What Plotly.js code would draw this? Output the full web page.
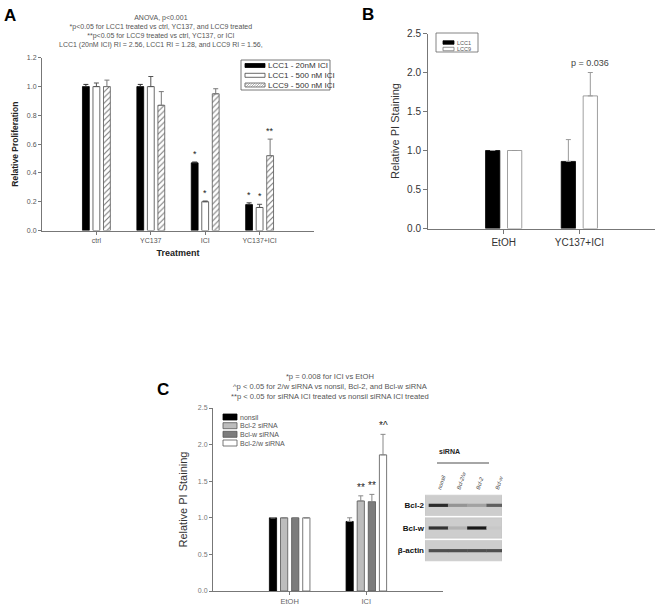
<!DOCTYPE html>
<html>
<head>
<meta charset="utf-8">
<script src="https://cdn.plot.ly/plotly-3.0.1.min.js"></script>
<style>html,body{margin:0;padding:0;background:#fff;}#chart{width:661px;height:607px;}</style>
</head>
<body>
<div id="chart"></div>
<script>
// ---------- DATA ----------
// Panel A
const catsA = ['ctrl', 'YC137', 'ICI', 'YC137+ICI'];
const namesA = ['LCC1 - 20nM ICI', 'LCC1 - 500 nM ICI', 'LCC9 - 500 nM ICI'];
const lcc1_20 = [1.00, 1.00, 0.47, 0.18];
const lcc1_20Err = [0.015, 0.015, 0.006, 0.012];
const lcc1_500 = [1.00, 1.00, 0.20, 0.16];
const lcc1_500Err = [0.025, 0.07, 0.005, 0.022];
const lcc9_500 = [1.00, 0.87, 0.95, 0.52];
const lcc9_500Err = [0.045, 0.095, 0.035, 0.115];
const starsA = [['', '', '*', '*'], ['', '', '*', '*'], ['', '', '', '**']];
const headerA = ['ANOVA, p<0.001',
  '*p<0.05 for LCC1 treated vs ctrl, YC137, and LCC9 treated',
  '**p<0.05 for LCC9 treated vs ctrl, YC137, or ICI',
  'LCC1 (20nM ICI) RI = 2.56, LCC1 RI = 1.28, and LCC9 RI = 1.56,'];

// Panel B
const catsB = ['EtOH', 'YC137+ICI'];
const namesB = ['LCC1', 'LCC9'];
const lcc1B = [1.00, 0.86];
const lcc1BErr = [0, 0.28];
const lcc9B = [1.00, 1.70];
const lcc9BErr = [0, 0.30];
const pLabelB = 'p = 0.036';

// Panel C
const catsC = ['EtOH', 'ICI'];
const namesC = ['nonsil', 'Bcl-2 siRNA', 'Bcl-w siRNA', 'Bcl-2/w siRNA'];
const nonsilC = [1.00, 0.95];
const nonsilCErr = [0, 0.05];
const bcl2C = [1.00, 1.23];
const bcl2CErr = [0, 0.07];
const bclwC = [1.00, 1.22];
const bclwCErr = [0, 0.10];
const bcl2wC = [1.00, 1.86];
const bcl2wCErr = [0, 0.28];
const starsC = [['', ''], ['', '**'], ['', '**'], ['', '*^']];
const headerC = ['*p = 0.008 for ICI vs EtOH',
  '^p < 0.05 for 2/w siRNA vs nonsil, Bcl-2, and Bcl-w siRNA',
  '**p < 0.05 for siRNA ICI treated vs nonsil siRNA ICI treated'];

// Western blot (band intensity 0..1)
const blotLanes = ['nonsil', 'Bcl-2/w', 'Bcl-2', 'Bcl-w'];
const blotRows = ['Bcl-2', 'Bcl-w', 'β-actin'];
const bandBcl2 = [0.90, 0.30, 0.22, 0.60];
const bandBclw = [0.85, 0.12, 1.00, 0.00];
const bandActin = [0.70, 0.70, 0.70, 0.70];

// ---------- HELPERS ----------
const W = 661, H = 607;
const px = x => x / W;
const py = y => 1 - y / H;
const FONT = 'Liberation Sans, Arial, sans-serif';
const BARGAP = 0.42, BARGROUPGAP = 0.35;

function errUp(arr) {
  const up = arr.map(v => v > 0 ? v : NaN);
  return {type: 'data', symmetric: false, array: up, arrayminus: arr.map(() => 0), thickness: 1, width: 2.5};
}

function starAnns(xa, ya, vals, errs, stars, n, size) {
  const out = [];
  const slot = (1 - BARGAP) / n;
  stars.forEach((row, i) => {
    row.forEach((s, j) => {
      if (!s) return;
      out.push({xref: xa, yref: ya, x: j + (i - (n - 1) / 2) * slot, y: vals[i][j] + errs[i][j],
        text: s, showarrow: false, yanchor: 'bottom', yshift: 1,
        font: {family: FONT, size: size, color: '#222'}});
    });
  });
  return out;
}

const traces = [];
// Panel A
traces.push({type: 'bar', x: catsA, y: lcc1_20, name: namesA[0], xaxis: 'x', yaxis: 'y',
  marker: {color: '#000', line: {color: '#000', width: 0.8}}, error_y: Object.assign(errUp(lcc1_20Err), {color: '#333'})});
traces.push({type: 'bar', x: catsA, y: lcc1_500, name: namesA[1], xaxis: 'x', yaxis: 'y',
  marker: {color: '#fff', line: {color: '#444', width: 0.8}}, error_y: Object.assign(errUp(lcc1_500Err), {color: '#555'})});
traces.push({type: 'bar', x: catsA, y: lcc9_500, name: namesA[2], xaxis: 'x', yaxis: 'y',
  marker: {color: '#fff', line: {color: '#555', width: 0.8},
    pattern: {shape: '/', fgcolor: '#777', bgcolor: '#fff', size: 4, solidity: 0.25}},
  error_y: Object.assign(errUp(lcc9_500Err), {color: '#777'})});
// Panel B
traces.push({type: 'bar', x: catsB, y: lcc1B, name: namesB[0], xaxis: 'x2', yaxis: 'y2',
  marker: {color: '#000', line: {color: '#000', width: 0.8}}, error_y: Object.assign(errUp(lcc1BErr), {color: '#999'})});
traces.push({type: 'bar', x: catsB, y: lcc9B, name: namesB[1], xaxis: 'x2', yaxis: 'y2',
  marker: {color: '#fff', line: {color: '#888', width: 0.8}}, error_y: Object.assign(errUp(lcc9BErr), {color: '#999'})});
// Panel C
const colorsC = ['#000000', '#bdbdbd', '#7c7c7c', '#ffffff'];
const valsC = [nonsilC, bcl2C, bclwC, bcl2wC];
const errsC = [nonsilCErr, bcl2CErr, bclwCErr, bcl2wCErr];
valsC.forEach((v, i) => {
  traces.push({type: 'bar', x: catsC, y: v, name: namesC[i], xaxis: 'x3', yaxis: 'y3',
    marker: {color: colorsC[i], line: {color: i === 0 ? '#000' : '#555', width: 0.8}},
    error_y: Object.assign(errUp(errsC[i]), {color: '#888'})});
});
// Blot bands
function bandColor(v) {
  const bg = 200, dark = 25;
  const c = Math.round(bg - (bg - dark) * v);
  return 'rgb(' + c + ',' + c + ',' + c + ')';
}
const bands = [bandBcl2, bandBclw, bandActin];
const bx = [], by = [], bc = [];
bands.forEach((row, r) => row.forEach((v, l) => {
  bx.push(l); by.push(blotRows.length - 1 - r + 0.5); bc.push(bandColor(v));
}));
traces.push({type: 'scatter', mode: 'markers', x: bx, y: by, xaxis: 'x4', yaxis: 'y4', hoverinfo: 'skip',
  marker: {symbol: 'line-ew', size: 14, color: bc, line: {color: bc, width: 3.2}}});

traces.forEach(t => t.showlegend = false);

// ---------- LAYOUT ----------
const axBase = {showline: true, linecolor: '#777', linewidth: 1, ticks: 'outside', tickcolor: '#777',
  showgrid: false, zeroline: false, fixedrange: true};

const shapes = [], annotations = [];

// Panel labels
[['A', 10, 15], ['B', 368, 14], ['C', 163, 389]].forEach(([t, x, y]) => {
  annotations.push({xref: 'paper', yref: 'paper', x: px(x), y: py(y), text: '<b>' + t + '</b>', showarrow: false,
    xanchor: 'center', yanchor: 'middle', font: {family: FONT, size: 17, color: '#000'}});
});
// Header text (single multi-line blocks)
annotations.push({xref: 'paper', yref: 'paper', x: px(161), y: py(32), text: headerA.join('<br>'),
  showarrow: false, xanchor: 'center', yanchor: 'middle', align: 'center', borderpad: 0,
  font: {family: FONT, size: 7, color: '#555'}});
annotations.push({xref: 'paper', yref: 'paper', x: px(330), y: py(386), text: headerC.join('<br>'),
  showarrow: false, xanchor: 'center', yanchor: 'middle', align: 'center', borderpad: 0,
  font: {family: FONT, size: 7.6, color: '#555'}});

// Stars
annotations.push(...starAnns('x', 'y', [lcc1_20, lcc1_500, lcc9_500], [lcc1_20Err, lcc1_500Err, lcc9_500Err], starsA, 3, 9));
annotations.push(...starAnns('x3', 'y3', valsC, errsC, starsC, 4, 10));
// p label B
annotations.push({xref: 'x2', yref: 'y2', x: 1 + 0.5 * (1 - BARGAP) / 2, y: lcc9B[1] + lcc9BErr[1], yshift: 3,
  text: pLabelB, showarrow: false, yanchor: 'bottom', font: {family: FONT, size: 9, color: '#444'}});

// Manual legends
function legend(items, x0, y0s, sw, sh, tx, fs, fcol) {
  items.forEach((it, i) => {
    const yc = y0s[i];
    shapes.push({type: 'rect', xref: 'paper', yref: 'paper', x0: px(x0), x1: px(x0 + sw), y0: py(yc + sh / 2), y1: py(yc - sh / 2),
      fillcolor: it.fill, line: {color: it.line, width: 0.8}});
    if (it.hatch) {
      for (let k = -sh; k < sw; k += 2.5) {
        const xa = Math.max(x0, x0 + k), xb = Math.min(x0 + sw, x0 + k + sh);
        const ya = yc + sh / 2 - (xa - (x0 + k)), yb = yc + sh / 2 - (xb - (x0 + k));
        if (xb > xa) shapes.push({type: 'line', xref: 'paper', yref: 'paper', x0: px(xa), x1: px(xb), y0: py(ya), y1: py(yb),
          line: {color: '#777', width: 0.6}});
      }
    }
    annotations.push({xref: 'paper', yref: 'paper', x: px(tx), y: py(yc), text: it.name, showarrow: false,
      xanchor: 'left', yanchor: 'middle', borderpad: 0, font: {family: FONT, size: fs, color: fcol}});
  });
}
shapes.push({type: 'rect', xref: 'paper', yref: 'paper', x0: px(241), x1: px(330), y0: py(90), y1: py(60),
  line: {color: '#555', width: 0.8}, fillcolor: '#fff'});
legend([{name: namesA[0], fill: '#000', line: '#000'}, {name: namesA[1], fill: '#fff', line: '#444'},
  {name: namesA[2], fill: '#fff', line: '#555', hatch: true}], 245, [65.5, 75.3, 85], 20, 4, 267, 8, '#333');
shapes.push({type: 'rect', xref: 'paper', yref: 'paper', x0: px(436), x1: px(478), y0: py(52), y1: py(33),
  line: {color: '#666', width: 0.8}, fillcolor: '#fff'});
legend([{name: namesB[0], fill: '#000', line: '#000'}, {name: namesB[1], fill: '#fff', line: '#777'}],
  443, [42.5, 49], 11, 3.5, 456, 5.5, '#555');
legend(namesC.map((n, i) => ({name: n, fill: colorsC[i], line: i === 0 ? '#000' : '#555'})),
  223, [417, 425.7, 434.3, 443], 14, 6, 239, 7, '#555');

// Blot panels
blotRows.forEach((r, i) => {
  const yv = blotRows.length - 1 - i;
  shapes.push({type: 'rect', xref: 'x4', yref: 'y4', x0: -0.7, x1: 3.3, y0: yv + 0.05, y1: yv + 0.95,
    fillcolor: '#cdcdcd', line: {color: '#bdbdbd', width: 0.5}, layer: 'below'});
});
shapes.push({type: 'line', xref: 'paper', yref: 'paper', x0: px(437), x1: px(489), y0: py(463), y1: py(463),
  line: {color: '#888', width: 1.5}});
annotations.push({xref: 'paper', yref: 'paper', x: px(462), y: py(457), text: '<b>siRNA</b>', showarrow: false,
  font: {family: FONT, size: 7, color: '#222'}});

const layout = {
  width: W, height: H, margin: {l: 0, r: 0, t: 0, b: 0}, paper_bgcolor: '#fff', plot_bgcolor: 'rgba(0,0,0,0)',
  barmode: 'group', bargap: BARGAP, bargroupgap: BARGROUPGAP, showlegend: false,
  font: {family: FONT},
  xaxis: Object.assign({}, axBase, {domain: [px(42), px(314)], anchor: 'y', type: 'category', range: [-1, 4], ticklen: 3,
    tickfont: {size: 7, color: '#555'},
    title: {text: '<b>Treatment</b>', font: {size: 9, color: '#222'}, standoff: 6}}),
  yaxis: Object.assign({}, axBase, {domain: [py(230.5), py(57.8)], anchor: 'x', range: [0, 1.2], dtick: 0.2, tickformat: '.1f',
    ticklen: 3, tickfont: {size: 7, color: '#555'},
    title: {text: '<b>Relative Proliferation</b>', font: {size: 8.5, color: '#222'}, standoff: 6}}),
  xaxis2: Object.assign({}, axBase, {domain: [px(428), px(655)], anchor: 'y2', type: 'category', range: [-1, 2], ticklen: 4,
    tickfont: {size: 10, color: '#333'}}),
  yaxis2: Object.assign({}, axBase, {domain: [py(228.5), py(33.5)], anchor: 'x2', range: [0, 2.5], dtick: 0.5, tickformat: '.1f',
    ticklen: 4, tickfont: {size: 10, color: '#333'},
    title: {text: 'Relative PI Staining', font: {size: 11, color: '#333'}, standoff: 5}}),
  xaxis3: Object.assign({}, axBase, {domain: [px(213), px(443)], anchor: 'y3', type: 'category', range: [-1, 2], ticklen: 3,
    tickfont: {size: 7.5, color: '#666'}}),
  yaxis3: Object.assign({}, axBase, {domain: [py(591), py(408)], anchor: 'x3', range: [0, 2.5], dtick: 0.5, tickformat: '.1f',
    ticklen: 3, tickfont: {size: 7, color: '#777'},
    title: {text: 'Relative PI Staining', font: {size: 11, color: '#333'}, standoff: 8}}),
  xaxis4: {domain: [px(425), px(502)], anchor: 'y4', range: [-0.7, 3.3], side: 'top', showline: false, showgrid: false,
    zeroline: false, ticks: '', tickvals: blotLanes.map((_, i) => i), ticktext: blotLanes.map(s => '<i>' + s + '</i>'),
    tickangle: -72, tickfont: {size: 5.5, color: '#333'}, fixedrange: true},
  yaxis4: {domain: [py(562), py(494)], anchor: 'x4', range: [0, 3], showline: false, showgrid: false, zeroline: false,
    ticks: '', tickvals: blotRows.map((_, i) => blotRows.length - 1 - i + 0.5), ticktext: blotRows.map(s => '<b>' + s + '</b>'),
    tickfont: {size: 8, color: '#111'}, fixedrange: true},
  shapes: shapes,
  annotations: annotations
};

Plotly.newPlot('chart', traces, layout, {displayModeBar: false, staticPlot: true});
</script>
</body>
</html>
